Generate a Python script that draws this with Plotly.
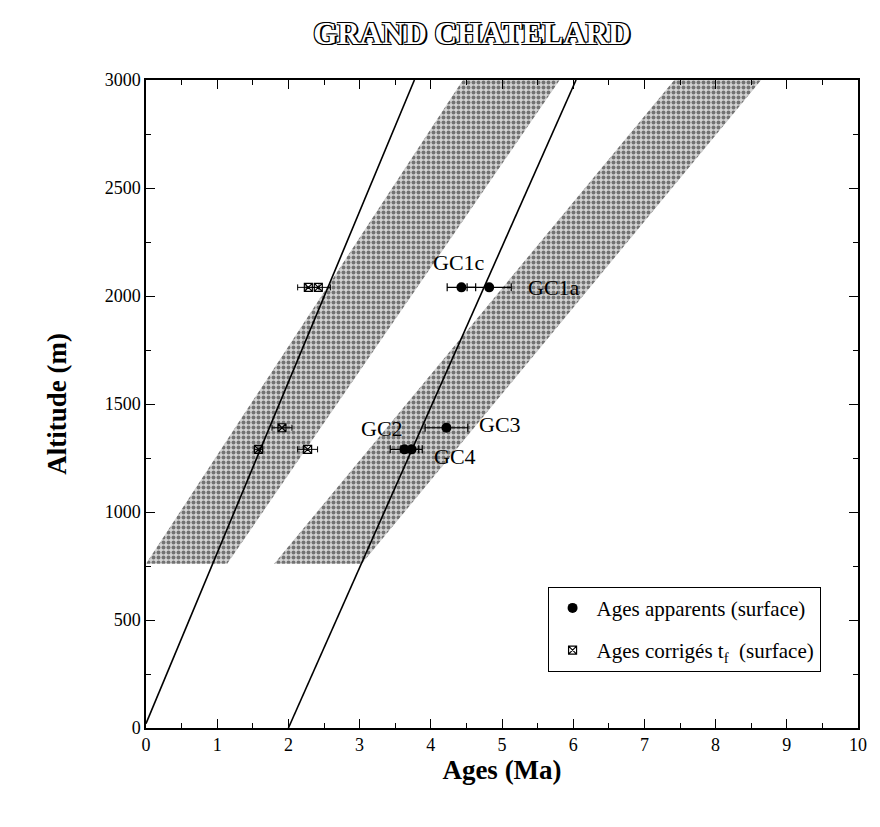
import plotly.graph_objects as go

# --- data ---------------------------------------------------------------
# reference lines (age in Ma, altitude in m)
line1_age = [0.0, 3.77]
line1_alt = [20, 3000]
line2_age = [2.0, 6.04]
line2_alt = [0, 3000]

# stippled bands (parallelograms)
band1_age = [0.0, 1.14, 5.81, 4.45, 0.0]
band1_alt = [760, 760, 3000, 3000, 760]
band2_age = [1.80, 3.03, 8.64, 7.42, 1.80]
band2_alt = [760, 760, 3000, 3000, 760]

# apparent ages (surface)
app_names = ["GC1c", "GC1a", "GC3", "GC2", "GC4"]
app_age = [4.43, 4.82, 4.22, 3.63, 3.73]
app_err = [0.20, 0.31, 0.30, 0.20, 0.15]
app_alt = [2040, 2040, 1390, 1290, 1290]

# corrected ages t_f (surface)
corr_age = [2.28, 2.42, 1.91, 1.58, 2.27]
corr_err = [0.15, 0.17, 0.14, 0.06, 0.14]
corr_alt = [2040, 2040, 1390, 1290, 1290]

x_ticks = list(range(0, 11))
y_ticks = [0, 500, 1000, 1500, 2000, 2500, 3000]

SERIF = "Liberation Serif, Times New Roman, serif"

fig = go.Figure()

# bands
for ba, bz in [(band1_age, band1_alt), (band2_age, band2_alt)]:
    fig.add_trace(go.Scatter(
        x=ba, y=bz, mode="lines", fill="toself",
        line=dict(width=0, color="rgba(0,0,0,0)"),
        fillcolor="#c8c8c8",
        fillpattern=dict(shape=".", fgcolor="#111111", bgcolor="#d4d4d4",
                         size=5, solidity=0.5),
        showlegend=False, hoverinfo="skip",
    ))

# lines
for la, lz in [(line1_age, line1_alt), (line2_age, line2_alt)]:
    fig.add_trace(go.Scatter(
        x=la, y=lz, mode="lines", line=dict(color="black", width=1.6),
        showlegend=False, hoverinfo="skip",
    ))

# apparent ages
fig.add_trace(go.Scatter(
    x=app_age, y=app_alt, mode="markers",
    name="Ages apparents (surface)",
    legendgroup="app",
    text=app_names,
    marker=dict(symbol="circle", size=10, color="black"),
    error_x=dict(type="data", array=app_err, color="black",
                 thickness=1.2, width=4),
))

# corrected ages
fig.add_trace(go.Scatter(
    x=corr_age, y=corr_alt, mode="markers",
    name="Ages corrigés t<sub>f</sub>\u00a0\u00a0(surface)",
    legendgroup="corr",
    marker=dict(symbol="square-x-open", size=8, color="black",
                line=dict(width=1.2, color="black")),
    error_x=dict(type="data", array=corr_err, color="black",
                 thickness=1, width=3),
))

# sample labels
label_offsets = {
    "GC1c": dict(xshift=-2, yshift=25, xanchor="center"),
    "GC1a": dict(xshift=37, yshift=0, xanchor="left"),
    "GC3": dict(xshift=31, yshift=3, xanchor="left"),
    "GC2": dict(xshift=1, yshift=21, xanchor="right"),
    "GC4": dict(xshift=20, yshift=-7, xanchor="left"),
}
for name, a, z in zip(app_names, app_age, app_alt):
    fig.add_annotation(x=a, y=z, text=name, showarrow=False,
                       yanchor="middle", font=dict(family=SERIF, size=22, color="black"),
                       **label_offsets[name])

fig.update_layout(
    width=880, height=827,
    margin=dict(l=138, r=30, t=72, b=107),
    paper_bgcolor="white", plot_bgcolor="white",
    title=dict(
        text="<b>GRAND CHATELARD</b>",
        x=0.527, xanchor="center", y=0.970, yanchor="middle",
        font=dict(family=SERIF, size=31, color="white",
                  shadow="1px 1px 0 #000, -1px -1px 0 #000, 1px -1px 0 #000, "
                         "-1px 1px 0 #000, 2px 1px 0 #000"),
    ),
    font=dict(family=SERIF, size=19, color="black"),
    showlegend=True,
    legend=dict(
        x=0.564, y=0.218, xanchor="left", yanchor="top",
        bordercolor="black", borderwidth=1, bgcolor="white",
        font=dict(family=SERIF, size=21, color="black"),
        traceorder="grouped", tracegroupgap=12,
        itemwidth=38,
    ),
)

fig.update_xaxes(
    range=[0, 10], tickvals=x_ticks,
    showgrid=False, zeroline=False,
    showline=True, linecolor="black", linewidth=1.5, mirror="ticks",
    ticks="inside", ticklen=9, tickwidth=1.3, tickcolor="black",
    minor=dict(dtick=0.5, ticks="inside", ticklen=5, tickwidth=1.2, tickcolor="black"),
    tickfont=dict(family=SERIF, size=18),
    title=dict(text="<b>Ages (Ma)</b>", font=dict(family=SERIF, size=27), standoff=6),
)
fig.update_yaxes(
    range=[0, 3000], tickvals=y_ticks,
    showgrid=False, zeroline=False,
    showline=True, linecolor="black", linewidth=1.5, mirror="ticks",
    ticks="inside", ticklen=9, tickwidth=1.3, tickcolor="black",
    minor=dict(dtick=250, ticks="inside", ticklen=5, tickwidth=1.2, tickcolor="black"),
    tickfont=dict(family=SERIF, size=18),
    title=dict(text="<b>Altitude (m)</b>", font=dict(family=SERIF, size=27), standoff=30),
)

fig.write_html("out.html")
